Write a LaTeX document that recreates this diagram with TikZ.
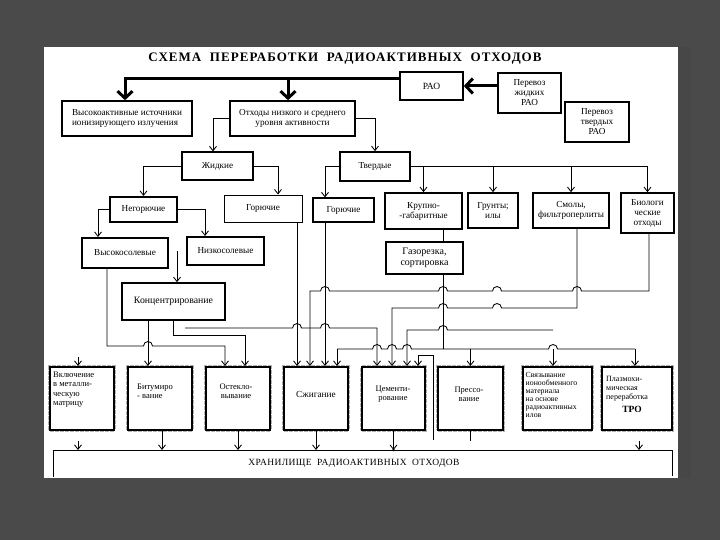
\documentclass[tikz,border=0pt]{standalone}
\usepackage{fontspec}
\setmainfont{Liberation Serif}
\newfontfamily\titlefont[LetterSpace=8]{Liberation Serif}
\newfontfamily\storfont[LetterSpace=4]{Liberation Serif}
\usetikzlibrary{arrows.meta,calc}
\definecolor{bgc}{HTML}{4A4A4A}
\newcommand\hopr[2]{-- ({#1-4.5},#2) arc[start angle=180,end angle=0,radius=4.5pt]}
\newcommand\hopl[2]{-- ({#1+4.5},#2) arc[start angle=0,end angle=180,radius=4.5pt]}
\tikzset{
 box/.style={draw, line width=1.6pt, fill=white, align=center, inner sep=1pt, font=\fontsize{9.2}{10}\selectfont},
 tbox/.style={box, line width=1.1pt},
 bbox/.style={draw, line width=2pt, fill=white, minimum width=#1, minimum height=63,
   preaction={draw=gray!60, densely dotted, line width=4pt}},
 txt/.style={font=\fontsize{8.5}{9.2}\selectfont, align=left, inner sep=0pt},
 ln/.style={line width=0.85pt},
 arr/.style={ln, -{Straight Barb[length=4.5pt,width=7pt]}},
 bigarr/.style={line width=3pt, -{Straight Barb[length=7pt,width=15pt]}},
}
\begin{document}
\begin{tikzpicture}[x=1pt,y=-1pt]
\useasboundingbox (0,0) rectangle (720,540);
\fill[bgc] (0,0) rectangle (720,540);
\fill[black!72] (678,47) rectangle (691,478);
\fill[white] (44,47) rectangle (678,478);

\node[font=\titlefont\bfseries\fontsize{13}{15}\selectfont] (title) at (345,59) {СХЕМА\ \ ПЕРЕРАБОТКИ\ \ РАДИОАКТИВНЫХ\ \ ОТХОДОВ};

% upper boxes
\node[box, minimum width=63, minimum height=28, font=\fontsize{9.5}{10}\selectfont] (rao) at (431.5,86) {РАО};
\node[box, minimum width=63, minimum height=40] (pzh) at (529.5,93) {Перевоз\\жидких\\РАО};
\node[box, minimum width=64, minimum height=40] (ptv) at (597,122) {Перевоз\\твердых\\РАО};
\node[box, minimum width=130, minimum height=35, align=left] (vys) at (127,118.5) {Высокоактивные источники\\ионизирующего излучения};
\node[box, minimum width=125, minimum height=35] (otx) at (292.5,118.5) {Отходы низкого и среднего\\уровня активности};
\node[tbox, minimum width=71, minimum height=28] (zhid) at (217.5,166) {Жидкие};
\node[box, minimum width=70, minimum height=29] (tver) at (375,166.5) {Твердые};
\node[box, line width=2pt, minimum width=67, minimum height=25] (negor) at (143.5,209.5) {Негорючие};
\node[tbox, line width=0.9pt, minimum width=78, minimum height=27] (gor1) at (263,208.5) {Горючие};
\node[tbox, minimum width=61, minimum height=24] (gor2) at (343.5,210) {Горючие};
\node[box, line width=2pt, minimum width=86, minimum height=30] (vysol) at (125,253) {Высокосолевые};
\node[box, line width=2pt, minimum width=77, minimum height=28] (nizsol) at (225.5,251) {Низкосолевые};
\node[box, minimum width=77, minimum height=36] (krup) at (423.5,211) {Крупно-\\-габаритные};
\node[box, minimum width=50, minimum height=35] (grunt) at (493,210.5) {Грунты;\\илы};
\node[box, minimum width=76, minimum height=35] (smol) at (571,210.5) {Смолы,\\фильтроперлиты};
\node[box, minimum width=53, minimum height=40] (biol) at (647.5,213) {Биологи\\ческие\\отходы};
\node[box, minimum width=77, minimum height=32, font=\fontsize{10}{11}\selectfont] (gaz) at (424.5,258) {Газорезка,\\сортировка};
\node[box, minimum width=103, minimum height=37, font=\fontsize{9.8}{10}\selectfont] (konc) at (173.5,301.5) {Концентрирование};

% bottom boxes
\node[bbox=64] (vkl) at (82,398.5) {};
\node[bbox=64] (bit) at (160,398.5) {};
\node[bbox=64] (ost) at (238,398.5) {};
\node[bbox=64] (szh) at (316,398.5) {};
\node[bbox=63] (cem) at (393.5,398.5) {};
\node[bbox=65] (pres) at (470.5,398.5) {};
\node[bbox=69] (svz) at (557.5,398.5) {};
\node[bbox=70] (plz) at (637,398.5) {};

\node[txt, anchor=north west] (vklT) at ($(vkl.north west)+(4,6)$) {Включение\\в металли-\\ческую\\матрицу};
\node[txt, anchor=west] (bitT) at (137,391) {Битумиро\\- вание};
\node[txt, align=center] (ostT) at (236,391) {Остекло-\\вывание};
\node[txt, font=\fontsize{9.3}{10}\selectfont] (szhT) at (316,394) {Сжигание};
\node[txt, align=center] (cemT) at (393,394) {Цементи-\\рование};
\node[txt, align=center] (presT) at (469,394) {Прессо-\\вание};
\node[txt, anchor=north west, font=\fontsize{7.8}{8}\selectfont] (svzT) at ($(svz.north west)+(3.5,6)$) {Связывание\\ионообменного\\материала\\на основе\\радиоактивных\\илов};
\node[txt, anchor=north west, font=\fontsize{8}{8.8}\selectfont] (plzT) at ($(plz.north west)+(5,10)$) {Плазмохи-\\мическая\\переработка};
\node[font=\bfseries\fontsize{9.5}{10}\selectfont, inner sep=0pt] (tro) at (632,409) {ТРО};

% storage
\coordinate (stL) at (53,450);
\coordinate (stR) at (672,450);
\draw[ln] (53,477) -- (stL) -- (stR) -- (672,476);
\node[font=\storfont\fontsize{9.5}{11}\selectfont] (stor) at (354,463) {ХРАНИЛИЩЕ\ \ РАДИОАКТИВНЫХ\ \ ОТХОДОВ};

% thick connectors
\coordinate (raoL) at ($(rao.north west)!0.25!(rao.south west)$);
\coordinate (otxT) at ([xshift=-4.5]otx.north);
\draw[bigarr] (raoL) -| ([xshift=-2]vys.north);
\draw[bigarr] (raoL -| otxT) -- (otxT);
\draw[bigarr] (pzh.west |- rao.east) -- (rao.east);

% tree connectors
\draw[arr] (otx.west) -| ([xshift=-4.5]zhid.north);
\draw[arr] (otx.east) -| (tver.north);
\draw[arr] (zhid.west) -| (negor.north);
\draw[arr] (zhid.east) -| ([xshift=15]gor1.north);
\draw[arr] (tver.west) -| ([xshift=-18.5]gor2.north);
\draw[arr] (negor.west) -| ([xshift=-27]vysol.north);
\draw[arr] (negor.east) -| ([xshift=-20.5]nizsol.north);
\draw[arr] (tver.east) -| (biol.north);
\draw[arr] (tver.east -| krup.north) -- (krup.north);
\draw[arr] (tver.east -| grunt.north) -- (grunt.north);
\draw[arr] (tver.east -| smol.north) -- (smol.north);
\coordinate (k1) at ([xshift=20]krup.south);
\draw[ln] (k1) -- (k1 |- gaz.north);

% lower connectors
\coordinate (ns1) at ([xshift=-9]nizsol.west);
\draw[arr] (ns1) -- (ns1 |- konc.north);
\coordinate (vs1) at ([xshift=-18]vysol.south);
\coordinate (os1) at ([xshift=-13]ost.north);
\draw[arr] (vs1) |- (143.5,346) arc[start angle=180,end angle=0,radius=4.5pt] -| (os1);
\coordinate (bt1) at ([xshift=-12]bit.north);
\draw[arr] (bt1 |- konc.south) -- (bt1);
\coordinate (os2) at ([xshift=7]ost.north);
\draw[arr] (konc.south) -- ++(0,15) -| (os2);
\coordinate (fr1) at (185,328);
\coordinate (cm1) at ([xshift=-16.5]cem.north);
\draw[arr] (fr1) \hopr{297}{328} \hopr{325}{328} -| (cm1);
\coordinate (g1) at ([xshift=34]gor1.south);
\draw[arr] (g1) -- (g1 |- szh.north);
\coordinate (g2) at ([xshift=-18.5]gor2.south);
\draw[arr] (g2) -- (g2 |- szh.north);
\coordinate (bl1) at ([xshift=1.5]biol.south);
\coordinate (sz2) at ([xshift=-6]szh.north);
\draw[arr] (bl1) -- (bl1 |- 0,291) \hopl{577}{291} \hopl{497}{291} \hopl{443}{291} \hopl{325}{291} -| (sz2);
\coordinate (sm1) at ([xshift=6]smol.south);
\coordinate (cm2) at ([xshift=-1.5]cem.north);
\draw[arr] (sm1) -- (sm1 |- 0,308) \hopl{497}{308} \hopl{443}{308} -| (cm2);
\coordinate (fr2) at (553,330);
\coordinate (cm3) at ([xshift=13.5]cem.north);
\draw[arr] (fr2) \hopl{443}{330} -| (cm3);
\coordinate (gz1) at ([xshift=18.5]gaz.south);
\draw[ln] (gz1) -- (gz1 |- 0,349);
\coordinate (sz4) at ([xshift=21]szh.north);
\draw[ln] (sz4 |- 0,349) \hopr{377}{349} \hopr{392}{349} \hopr{407}{349} \hopr{553}{349} -- (635,349);
\draw[arr] (sz4 |- 0,349) -- (sz4);
\draw[arr] (pres.north |- 0,349) -- (pres.north);
\coordinate (sv1) at ([xshift=-4.5]svz.north);
\draw[arr] (sv1 |- 0,349) -- (sv1);
\coordinate (pl1) at ([xshift=-2]plz.north);
\draw[arr] (pl1 |- 0,349) -- (pl1);
\coordinate (hk) at (433,440);
\coordinate (cm4) at ([xshift=24.5]cem.north);
\draw[arr] (hk) |- (cm4 |- 0,355) -- (cm4);
\coordinate (vk1) at ([xshift=-4]vkl.north);
\draw[arr] (vk1 |- 0,357) -- (vk1);

% to storage
\coordinate (bt2) at ([xshift=2]bit.south);
\draw[arr] (bt2) -- (bt2 |- stL);
\draw[arr] (ost.south) -- (ost.south |- stL);
\draw[arr] (szh.south) -- (szh.south |- stL);
\draw[arr] (cem.south) -- (cem.south |- stL);
\fill (cem.south |- stL) circle[radius=1.3pt];
\coordinate (vk2) at ([xshift=-4]vkl.south);
\draw[arr] (vk2 |- 0,441) -- (vk2 |- stL);
\coordinate (pl2) at ([xshift=2]plz.south);
\draw[arr] (pl2 |- 0,441) -- (pl2 |- stL);
\draw[ln] (pres.south) -- ++(0,10);
\end{tikzpicture}
\end{document}
